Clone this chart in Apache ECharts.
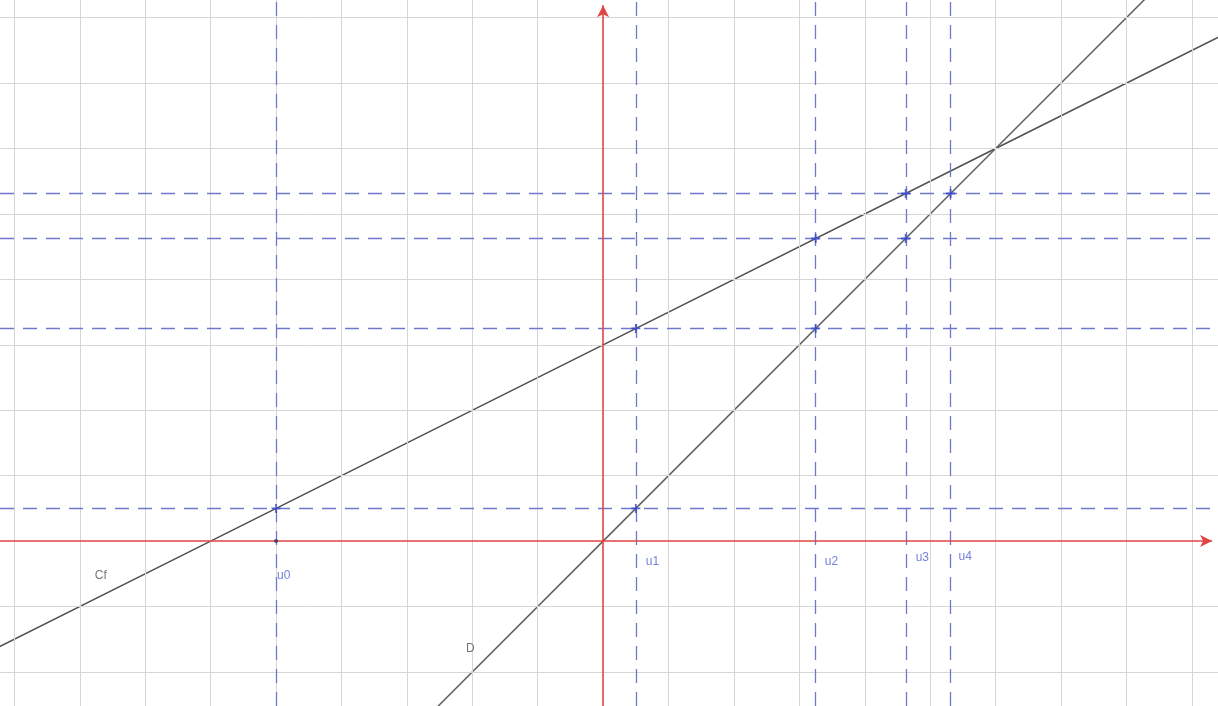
<!DOCTYPE html>
<html><head><meta charset="utf-8">
<script src="https://cdn.jsdelivr.net/npm/echarts@6/dist/echarts.min.js"></script>
<style>html,body{margin:0;padding:0;background:#fff}#c{width:1218px;height:706px}</style>
</head><body><div id="c"></div>
<script>
// visible window (data units)
const xRange = [-9.22, 9.40];
const yRange = [-2.52, 8.27];
// axis arrow ends (data units)
const axisEnds = {x: 9.31, y: 8.19};
// grid lines
const gridX = [-9,-8,-7,-6,-5,-4,-3,-2,-1,1,2,3,4,5,6,7,8,9];
const gridY = [-2,-1,1,2,3,4,5,6,7,8];
// curves
const cfPoints = [[-10,-2],[-6,0],[0,3],[6,6],[10,8]];
const dPoints = [[-3,-3],[0,0],[6,6],[9,9]];
// sequence
const uNames = ['u0','u1','u2','u3','u4'];
const uValues = [-5, 0.5, 3.25, 4.625, 5.3125];
const hLevels = [0.5, 3.25, 4.625, 5.3125];
const pointsOnCf = [[-5,0.5],[0.5,3.25],[3.25,4.625],[4.625,5.3125]];
const pointsOnD = [[0.5,0.5],[3.25,3.25],[4.625,4.625],[5.3125,5.3125]];
const startPoint = [[-5,0]];
// curve labels
const curveLabels = [{name:'Cf', at:[-7.68,-0.53]},{name:'D', at:[-2.03,-1.64]}];

// styling (separate from data)
const uLabelOffsets = [[1,35],[10,21],[9,21],[10,17],[8,16]];
const dashBlue = '#6f78cc';
const textBlue = '#4f62d2';
const axisRed = '#e04545';

const chart = echarts.init(document.getElementById('c'), null, {renderer:'canvas'});
const crossSymbol = 'path://M0,5L10,5M5,0L5,10';

chart.setOption({
  animation:false,
  backgroundColor:'#ffffff',
  grid:{left:0,right:0,top:0,bottom:0},
  xAxis:{type:'value',min:xRange[0],max:xRange[1],
    axisLine:{show:false},axisTick:{show:false},axisLabel:{show:false},splitLine:{show:false}},
  yAxis:{type:'value',min:yRange[0],max:yRange[1],
    axisLine:{show:false},axisTick:{show:false},axisLabel:{show:false},splitLine:{show:false}},
  series:[
    {type:'line',data:[],z:1,silent:true,
      markLine:{silent:true,symbol:'none',label:{show:false},animation:false,
        lineStyle:{color:'#d6d6d6',width:1,type:'solid'},
        data:[...gridX.map(v=>({xAxis:v})),...gridY.map(v=>({yAxis:v}))]}},
    {type:'line',data:[],z:2,silent:true,
      markLine:{silent:true,symbol:'none',label:{show:false},animation:false,
        lineStyle:{color:dashBlue,width:1.3,type:[14,9]},
        data:[...uValues.map(v=>({xAxis:v})),...hLevels.map(v=>({yAxis:v}))]}},
    {type:'line',data:[],z:3,silent:true,
      markLine:{silent:true,symbol:['none','arrow'],symbolSize:[9,12],label:{show:false},animation:false,
        lineStyle:{color:axisRed,width:1.6,type:'solid'},
        data:[[{coord:[xRange[0],0]},{coord:[axisEnds.x,0]}],
              [{coord:[0,yRange[0]]},{coord:[0,axisEnds.y]}]]}},
    {type:'line',data:cfPoints,showSymbol:false,z:4,lineStyle:{color:'#505050',width:1.5}},
    {type:'line',data:dPoints,showSymbol:false,z:4,lineStyle:{color:'#606060',width:1.5}},
    {type:'scatter',data:[...pointsOnCf,...pointsOnD],symbol:crossSymbol,symbolSize:9,z:5,
      itemStyle:{color:'none',borderColor:'#3344c8',borderWidth:1.8}},
    {type:'scatter',data:startPoint,symbol:'circle',symbolSize:4,z:11,itemStyle:{color:'#333355'}},
    {type:'scatter',z:6,symbolSize:0,
      data:uValues.map((v,i)=>({value:[v,0],label:{show:true,formatter:uNames[i],position:'inside',
        align:'left',offset:uLabelOffsets[i],color:textBlue,fontSize:12,fontFamily:'Liberation Sans'}}))},
    {type:'scatter',z:6,symbolSize:0,
      data:curveLabels.map(c=>({value:c.at,label:{show:true,formatter:c.name,position:'inside',
        color:'#555555',fontSize:12,fontFamily:'Liberation Sans'}}))}
  ]
});
</script></body></html>
